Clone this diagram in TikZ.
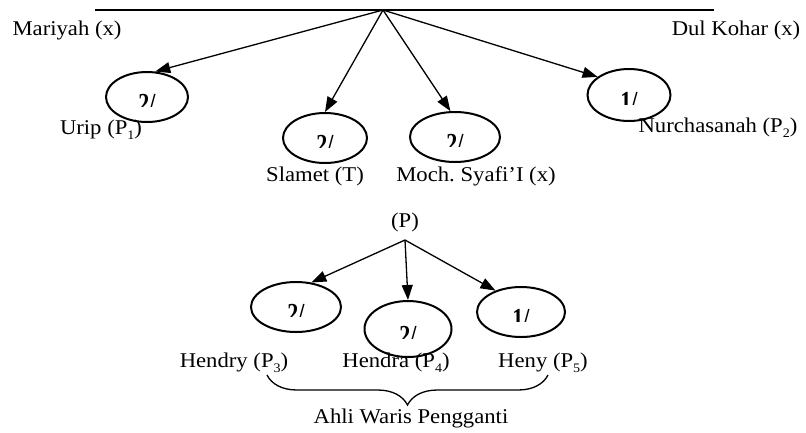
\documentclass[tikz,border=0pt]{standalone}
\usepackage{fontspec}
\setmainfont{Liberation Serif}
\frenchspacing
\usetikzlibrary{shapes.geometric,arrows.meta,decorations.pathreplacing,calc}
\newcommand{\subsc}[1]{\raisebox{-0.25em}{\fontsize{13}{13}\selectfont #1}}
\newcommand{\cutnum}[3]{%
  \begin{scope}
    \clip ($(#2)+(-30,-10)$) rectangle ($(#2)+(30,9)$);
    \node[num] (#1) at ($(#2)+(0,15.5)$) {#3};
  \end{scope}}
\tikzset{
  lbl/.style={inner sep=0pt, font=\fontsize{21}{24}\selectfont, xscale=1.08},
  num/.style={inner sep=0pt, anchor=base, yscale=1.25, font=\fontsize{22}{24}\selectfont\bfseries},
  share/.style args={#1/#2}{ellipse, draw, line width=2pt, inner sep=0pt,
    minimum width=#1pt, minimum height=#2pt},
  arr/.style={-{Triangle[length=15pt,width=11pt]}, line width=1.3pt},
}
\begin{document}
\begin{tikzpicture}[x=1pt,y=-1pt]
\useasboundingbox (0,0) rectangle (806,432);
% top line
\coordinate (L) at (95,10);
\coordinate (R) at (714,10);
\coordinate (apex) at (383,10);
\draw[line width=1.4pt] (L) -- (R);
\node[lbl] (mariyah) at (67,30) {Mariyah (x)};
\node[lbl] (dul) at (736,30) {Dul Kohar (x)};
% children
\node[share=82/50] (urip) at (147,97) {};
\node[share=84/50] (slamet) at (325,138) {};
\node[share=90/50] (moch) at (455,137) {};
\node[share=83/52] (nurch) at (629,95) {};
\cutnum{uripn}{urip.center}{2/}
\cutnum{slametn}{slamet.center}{2/}
\cutnum{mochn}{moch.center}{2/}
\cutnum{nurchn}{nurch.center}{1/}
\node[lbl] (uripl) at (101,130) {Urip (P\subsc{1})};
\node[lbl] (slametl) at (315,176) {Slamet (T)};
\node[lbl] (mochl) at (476,176) {Moch. Syafi’I (x)};
\node[lbl] (nurchl) at (718,128) {Nurchasanah (P\subsc{2})};
\draw[arr] (apex) -- (urip.72);
\draw[arr] (apex) -- (slamet.north);
\draw[arr] (apex) -- (moch.100);
\draw[arr] (apex) -- (nurch.150);
% substitutes
\node[lbl] (p) at (405,222) {(P)};
\coordinate (papex) at (405,240);
\node[share=90/50] (hendry) at (296,307) {};
\node[share=87/56] (hendra) at (408,329) {};
\node[share=88/50] (heny) at (521,312) {};
\cutnum{hendryn}{hendry.center}{2/}
\cutnum{hendran}{hendra.center}{2/}
\cutnum{henyn}{heny.center}{1/}
\draw[arr] (papex) -- (hendry.58);
\draw[arr] (papex) -- (hendra.north);
\draw[arr] (papex) -- (heny.140);
\node[lbl] (hendryl) at (234,363) {Hendry (P\subsc{3})};
\node[lbl] (hendral) at (396,363) {Hendra (P\subsc{4})};
\node[lbl] (henyl) at (543,363) {Heny (P\subsc{5})};
\coordinate (bl) at (267,375);
\coordinate (br) at (548,375);
\draw[line width=1.3pt, decorate, decoration={brace, amplitude=30pt, mirror}] (bl) -- (br);
\node[lbl] (ahli) at (411,418) {Ahli Waris Pengganti};
\end{tikzpicture}
\end{document}
